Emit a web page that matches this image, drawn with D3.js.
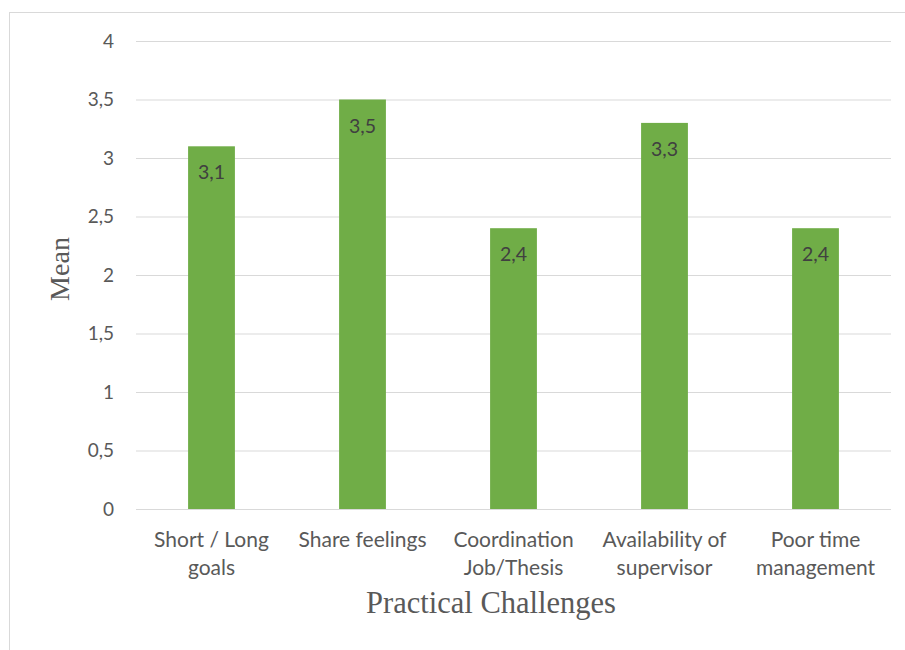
<!DOCTYPE html>
<html lang="en">
<head>
<meta charset="UTF-8">
<title>Practical Challenges</title>
<script src="https://d3js.org/d3.v7.min.js"></script>
<style>
  body { margin: 0; background: #fff; }
</style>
</head>
<body>
<div id="chart"></div>
<script>
    const categories = [["Short / Long", "goals"], ["Share feelings"], ["Coordination", "Job/Thesis"], ["Availability of", "supervisor"], ["Poor time", "management"]];
    const means = [3.1, 3.5, 2.4, 3.3, 2.4];
    const yTicks = [0, 0.5, 1, 1.5, 2, 2.5, 3, 3.5, 4];

    const width = 905, height = 650;
    const margin = { top: 41, right: 14, bottom: 141, left: 136 };

    const svg = d3.select("#chart").append("svg")
        .attr("width", width)
        .attr("height", height);

    // chart area frame
    svg.append("rect")
        .attr("x", 9.5).attr("y", 12.5)
        .attr("width", width - 9).attr("height", height - 12)
        .attr("fill", "none")
        .attr("stroke", "#d9d9d9");

    const x = d3.scaleBand()
        .domain(categories.map((d, i) => i))
        .range([margin.left, width - margin.right])
        .paddingInner(0.69)
        .paddingOuter(0.345);

    const y = d3.scaleLinear()
        .domain([0, 4])
        .range([height - margin.bottom, margin.top]);

    const fmt = v => String(v).replace(".", ",");

    // gridlines
    svg.append("g")
        .selectAll("line")
        .data(yTicks)
        .enter().append("line")
        .attr("x1", margin.left).attr("x2", width - margin.right)
        .attr("y1", d => y(d) + 0.5).attr("y2", d => y(d) + 0.5)
        .attr("stroke", "#d9d9d9")
        .attr("stroke-width", 1.2);

    // y axis labels
    const yAxis = svg.append("g")
        .attr("transform", "translate(" + (margin.left - 22) + ",0)")
        .call(d3.axisLeft(y).tickValues(yTicks).tickFormat(fmt).tickSize(0).tickPadding(0));
    yAxis.select(".domain").remove();
    yAxis.selectAll("text")
        .attr("font-family", "Lato, sans-serif")
        .attr("font-size", 19)
        .attr("fill", "#595959");

    // bars
    svg.selectAll(".bar")
        .data(means)
        .enter().append("rect")
        .attr("class", "bar")
        .attr("x", (d, i) => x(i))
        .attr("y", d => y(d))
        .attr("width", x.bandwidth())
        .attr("height", d => y(0) - y(d))
        .attr("fill", "#70ad47");

    // value labels
    svg.selectAll(".val")
        .data(means)
        .enter().append("text")
        .attr("class", "val")
        .attr("x", (d, i) => x(i) + x.bandwidth() / 2)
        .attr("y", d => y(d) + 33)
        .attr("text-anchor", "middle")
        .attr("font-family", "Lato, sans-serif")
        .attr("font-size", 19.5)
        .attr("fill", "#404040")
        .text(fmt);

    // category labels
    const cat = svg.append("g");
    categories.forEach((lines, i) => {
        const t = cat.append("text")
            .attr("x", x(i) + x.bandwidth() / 2)
            .attr("y", y(0) + 38)
            .attr("text-anchor", "middle")
            .attr("font-family", "Lato, sans-serif")
            .attr("font-size", 21)
            .attr("fill", "#595959");
        lines.forEach((l, j) => {
            t.append("tspan")
                .attr("x", x(i) + x.bandwidth() / 2)
                .attr("dy", j === 0 ? 0 : 28)
                .text(l);
        });
    });

    // axis titles
    svg.append("text")
        .attr("x", 491)
        .attr("y", 613)
        .attr("text-anchor", "middle")
        .attr("font-family", "'Liberation Serif', serif")
        .attr("font-size", 30.5)
        .attr("fill", "#595959")
        .text("Practical Challenges");

    svg.append("text")
        .attr("transform", "translate(69,269) rotate(-90)")
        .attr("text-anchor", "middle")
        .attr("font-family", "'Liberation Serif', serif")
        .attr("font-size", 28)
        .attr("fill", "#595959")
        .text("Mean");
</script>
</body>
</html>
